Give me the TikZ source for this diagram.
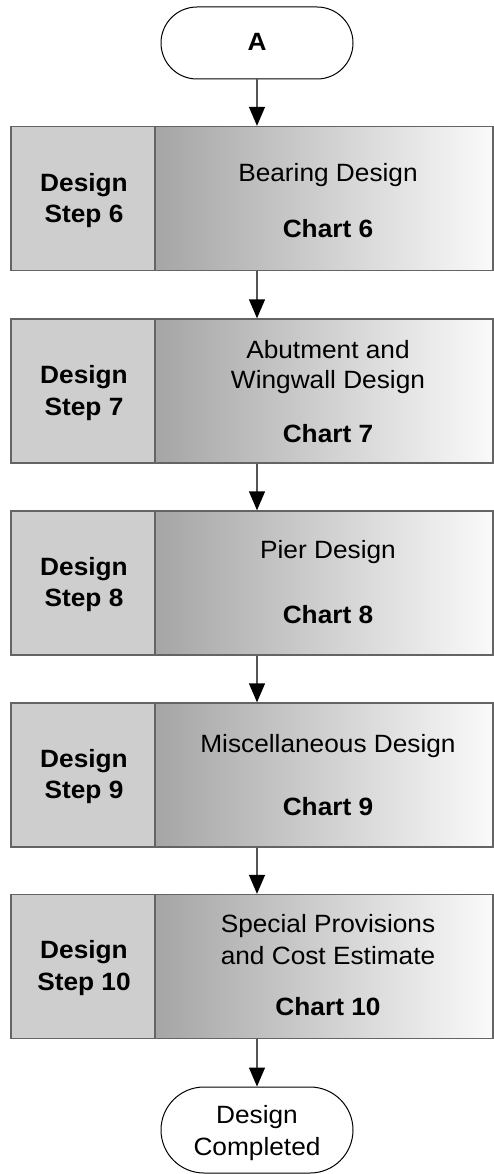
\documentclass[tikz,border=0pt]{standalone}
\usepackage{fontspec}
\setmainfont{Liberation Sans}[FakeStretch=1.05]
\usetikzlibrary{arrows.meta,shapes.misc}
\definecolor{edgegray}{RGB}{100,100,100}
\definecolor{leftfill}{RGB}{206,206,206}
\definecolor{gradL}{RGB}{165,165,165}
\definecolor{gradR}{RGB}{250,250,250}
\definecolor{arrowline}{RGB}{85,85,85}
\tikzset{
  stepcell/.style={draw=edgegray, line width=1.4pt, fill=leftfill,
    minimum width=144pt, minimum height=144pt, inner sep=0pt},
  taskcell/.style={draw=edgegray, line width=1.4pt, shading=axis,
    left color=gradL, right color=gradR,
    minimum width=338pt, minimum height=144pt, inner sep=0pt},
  txt/.style={font=\fontsize{25}{30}\selectfont, anchor=base, inner sep=0pt},
  btxt/.style={font=\fontsize{25}{30}\selectfont\bfseries, anchor=base, inner sep=0pt},
  term/.style={draw=black, line width=1pt, rounded rectangle,
    rounded rectangle arc length=180, minimum width=192pt, inner sep=0pt, fill=white},
  flow/.style={draw=arrowline, line width=1.4pt,
    -{Triangle[length=19pt,width=16pt,color=black]}}
}
\begin{document}
\begin{tikzpicture}[x=1pt,y=-1pt]
\useasboundingbox (0,0) rectangle (494,1174);
% start terminal
\node[term, minimum height=72pt] (ta) at (257,43) {};
\node[btxt] (tatext) at (257,51) {A};
% box 6
\node[stepcell] (l6) at (83,198.5) {};
\node[taskcell] (r6) at (324,198.5) {};
\node[btxt] (l6a) at (84,192) {Design};
\node[btxt] (l6b) at (84,223) {Step 6};
\node[txt] (r6a) at (328,182) {Bearing Design};
\node[btxt] (r6c) at (328,238) {Chart 6};
% box 7
\node[stepcell] (l7) at (83,391) {};
\node[taskcell] (r7) at (324,391) {};
\node[btxt] (l7a) at (84,383) {Design};
\node[btxt] (l7b) at (84,415) {Step 7};
\node[txt] (r7a) at (328,358) {Abutment and};
\node[txt] (r7b) at (328,388) {Wingwall Design};
\node[btxt] (r7c) at (328,442) {Chart 7};
% box 8
\node[stepcell] (l8) at (83,583) {};
\node[taskcell] (r8) at (324,583) {};
\node[btxt] (l8a) at (84,575) {Design};
\node[btxt] (l8b) at (84,606) {Step 8};
\node[txt] (r8a) at (328,558) {Pier Design};
\node[btxt] (r8c) at (328,623) {Chart 8};
% box 9
\node[stepcell] (l9) at (83,775) {};
\node[taskcell] (r9) at (324,775) {};
\node[btxt] (l9a) at (84,767) {Design};
\node[btxt] (l9b) at (84,798) {Step 9};
\node[txt] (r9a) at (328,752) {Miscellaneous Design};
\node[btxt] (r9c) at (328,815) {Chart 9};
% box 10
\node[stepcell] (l10) at (83,966.5) {};
\node[taskcell] (r10) at (324,966.5) {};
\node[btxt] (l10a) at (84,958) {Design};
\node[btxt] (l10b) at (84,990) {Step 10};
\node[txt] (r10a) at (328,932) {Special Provisions};
\node[txt] (r10b) at (328,964) {and Cost Estimate};
\node[btxt] (r10c) at (328,1015) {Chart 10};
% end terminal
\node[term, minimum height=86pt] (tb) at (257,1130) {};
\node[txt] (tba) at (257,1123) {Design};
\node[txt] (tbb) at (257,1155) {Completed};
% connectors
\draw[flow] (ta.south) -- (ta.south |- r6.north);
\draw[flow] (r6.south -| ta.center) -- (r7.north -| ta.center);
\draw[flow] (r7.south -| ta.center) -- (r8.north -| ta.center);
\draw[flow] (r8.south -| ta.center) -- (r9.north -| ta.center);
\draw[flow] (r9.south -| ta.center) -- (r10.north -| ta.center);
\draw[flow] (r10.south -| ta.center) -- (tb.north);
\end{tikzpicture}
\end{document}
